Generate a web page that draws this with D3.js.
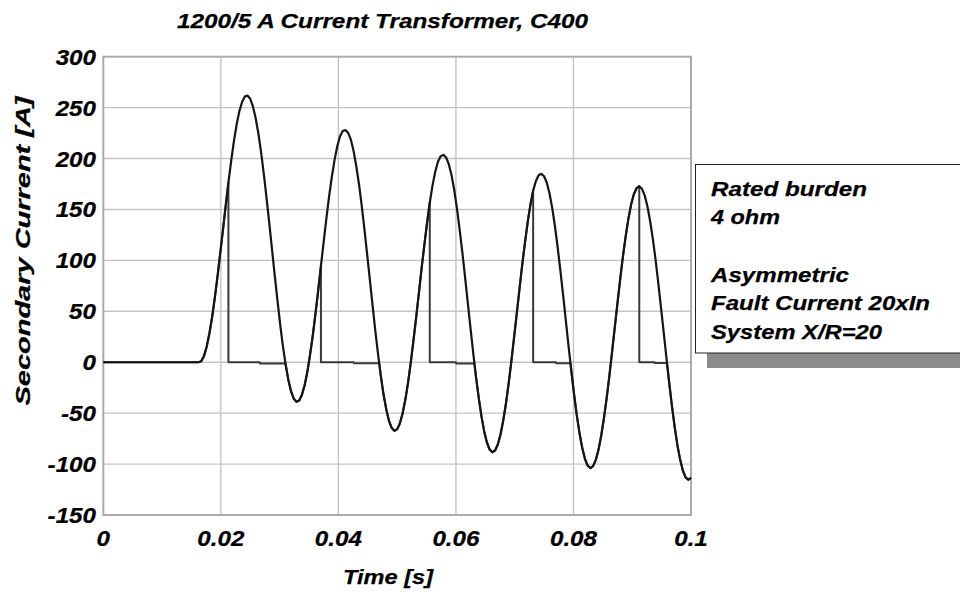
<!DOCTYPE html>
<html><head><meta charset="utf-8">
<script src="https://cdn.jsdelivr.net/npm/d3@7"></script>
<style>
body{margin:0;background:#fff}
svg{display:block}
text{font-family:"Liberation Sans",Arial,sans-serif;font-weight:bold;font-style:italic;fill:#000;stroke:#000;stroke-width:0.25px}
</style>
</head><body>
<svg id="chart" width="960" height="596"></svg>
<script>
// ---- data ----
const chartTitle = "1200/5 A Current Transformer, C400";
const xTitle = "Time [s]";
const yTitle = "Secondary Current [A]";
const legendLines = ["Rated burden", "4 ohm", "", "Asymmetric", "Fault Current 20xIn", "System X/R=20"];
const xTicks = [0, 0.02, 0.04, 0.06, 0.08, 0.1];
const xTickLabels = ["0", "0.02", "0.04", "0.06", "0.08", "0.1"];
const yTicks = [-150, -100, -50, 0, 50, 100, 150, 200, 250, 300];
const yTickLabels = ["-150", "-100", "-50", "0", "50", "100", "150", "200", "250", "300"];

// ideal (unsaturated) secondary current
const time = [0,
.01620,.01666,.01713,.01759,.01805,.01852,.01898,.01944,.01990,.02037,
.02083,.02129,.02176,.02222,.02268,.02314,.02361,.02407,.02453,.02500,
.02546,.02592,.02639,.02685,.02731,.02777,.02824,.02870,.02916,.02963,
.03009,.03055,.03102,.03148,.03194,.03240,.03287,.03333,.03379,.03426,
.03472,.03518,.03565,.03611,.03657,.03703,.03750,.03796,.03842,.03889,
.03935,.03981,.04027,.04074,.04120,.04166,.04213,.04259,.04305,.04352,
.04398,.04444,.04490,.04537,.04583,.04629,.04676,.04722,.04768,.04815,
.04861,.04907,.04953,.05000,.05046,.05092,.05139,.05185,.05231,.05277,
.05324,.05370,.05416,.05463,.05509,.05555,.05601,.05648,.05694,.05740,
.05787,.05833,.05879,.05926,.05972,.06018,.06064,.06111,.06157,.06203,
.06250,.06296,.06342,.06389,.06435,.06481,.06527,.06574,.06620,.06666,
.06713,.06759,.06805,.06852,.06898,.06944,.06990,.07037,.07083,.07129,
.07176,.07222,.07268,.07314,.07361,.07407,.07453,.07500,.07546,.07592,
.07639,.07685,.07731,.07777,.07824,.07870,.07916,.07963,.08009,.08055,
.08102,.08148,.08194,.08240,.08287,.08333,.08379,.08426,.08472,.08518,
.08565,.08611,.08657,.08703,.08750,.08796,.08842,.08889,.08935,.08981,
.09027,.09074,.09120,.09166,.09213,.09259,.09305,.09352,.09398,.09444,
.09490,.09537,.09583,.09629,.09676,.09722,.09768,.09815,.09861,.09907,
.09953,.10000];
const idealCurrent = [0,
0, 0.9, 6.0, 15.2, 28.2, 44.4, 63.4, 84.5, 107.2, 130.5,
153.9, 176.6, 197.8, 216.9, 233.2, 246.2, 255.5, 260.8, 261.9, 258.7,
251.2, 239.8, 224.6, 206.1, 184.9, 161.6, 136.7, 111.2, 85.7, 60.9,
37.5, 16.4, -2.0, -17.1, -28.4, -35.8, -38.8, -37.6, -32.1, -22.6,
-9.4, 7.2, 26.5, 48.0, 70.9, 94.6, 118.3, 141.3, 162.8, 182.1,
198.7, 212.1, 221.7, 227.0, 228.0, 225.2, 218.5, 207.3, 192.4, 174.3,
153.3, 130.2, 105.7, 80.4, 55.1, 30.6, 7.5, -13.4, -31.5, -46.3,
-57.5, -64.5, -67.3, -65.9, -60.2, -50.4, -36.9, -20.2, -0.6, 21.1,
44.3, 68.2, 92.1, 115.3, 137.0, 156.6, 173.4, 187.0, 196.8, 202.3,
203.6, 201.0, 194.5, 183.5, 168.8, 150.8, 130.0, 107.2, 82.8, 57.7,
32.6, 8.3, -14.6, -35.3, -53.2, -67.9, -78.8, -85.7, -88.4, -86.7,
-80.8, -70.9, -57.2, -40.3, -20.6, 1.3, 24.6, 48.7, 72.8, 96.2,
118.0, 137.8, 154.8, 168.5, 178.0, 183.6, 185.0, 182.6, 176.2, 165.9,
151.3, 133.5, 112.9, 90.2, 66.0, 41.0, 16.0, -8.2, -30.9, -51.5,
-69.3, -83.8, -94.6, -101.4, -103.9, -102.1, -96.1, -86.0, -72.2, -55.2,
-35.3, -13.4, 10.1, 34.3, 58.5, 82.0, 104.0, 123.9, 141.0, 154.8,
164.9, 170.9, 172.8, 170.3, 163.6, 152.9, 138.4, 120.7, 100.2, 77.5,
53.4, 28.6, 3.8, -20.3, -43.0, -63.5, -81.2, -95.6, -106.3, -112.9,
-115.4, -113.5];

// saturated CT secondary current
const satTime = [0,
.01620,.01666,.01713,.01759,.01805,.01852,.01898,.01944,.01990,.02037,.02083,.02129,
.02129,.02660,.02665,.03100,
.03102,.03148,.03194,.03240,.03287,.03333,.03379,.03426,.03472,.03518,.03565,.03611,.03657,.03703,
.03703,.04260,.04265,.04695,
.04722,.04768,.04815,.04861,.04907,.04953,.05000,.05046,.05092,.05139,.05185,.05231,.05277,.05324,.05370,.05416,.05463,.05509,.05555,
.05555,.06000,.06005,.06315,
.06342,.06389,.06435,.06481,.06527,.06574,.06620,.06666,.06713,.06759,.06805,.06852,.06898,.06944,.06990,.07037,.07083,.07129,.07176,.07222,.07268,.07314,
.07314,.07700,.07705,.07949,
.07963,.08009,.08055,.08102,.08148,.08194,.08240,.08287,.08333,.08379,.08426,.08472,.08518,.08565,.08611,.08657,.08703,.08750,.08796,.08842,.08889,.08935,.08981,.09027,.09074,.09120,
.09120,.09380,.09385,.09591,
.09629,.09676,.09722,.09768,.09815,.09861,.09907,.09953,.10000];
const satCurrent = [0,
0, 0.9, 6.0, 15.2, 28.2, 44.4, 63.4, 84.5, 107.2, 130.5, 153.9, 176.6,
0, 0, -1.2, -1.2,
-2.0, -17.1, -28.4, -35.8, -38.8, -37.6, -32.1, -22.6, -9.4, 7.2, 26.5, 48.0, 70.9, 94.6,
0, 0, -1.0, -1.0,
-13.4, -31.5, -46.3, -57.5, -64.5, -67.3, -65.9, -60.2, -50.4, -36.9, -20.2, -0.6, 21.1, 44.3, 68.2, 92.1, 115.3, 137.0, 156.6,
0, 0, -1.2, -1.2,
-14.6, -35.3, -53.2, -67.9, -78.8, -85.7, -88.4, -86.7, -80.8, -70.9, -57.2, -40.3, -20.6, 1.3, 24.6, 48.7, 72.8, 96.2, 118.0, 137.8, 154.8, 168.5,
0, 0, -1.0, -1.0,
-8.2, -30.9, -51.5, -69.3, -83.8, -94.6, -101.4, -103.9, -102.1, -96.1, -86.0, -72.2, -55.2, -35.3, -13.4, 10.1, 34.3, 58.5, 82.0, 104.0, 123.9, 141.0, 154.8, 164.9, 170.9, 172.8,
0, 0, -0.8, -0.8,
-20.3, -43.0, -63.5, -81.2, -95.6, -106.3, -112.9, -115.4, -113.5];

// ---- drawing ----
const svg = d3.select("#chart");
const W = 960, H = 596;
const plot = {left: 103.3, right: 691, top: 56.7, bottom: 515};

const x = d3.scaleLinear().domain([0, 0.1]).range([plot.left, plot.right]);
const y = d3.scaleLinear().domain([-150, 300]).range([plot.bottom, plot.top]);

svg.append("rect").attr("width", W).attr("height", H).attr("fill", "#fff");

// grid
const grid = svg.append("g");
grid.selectAll("line.gx").data(xTicks.slice(1, -1)).join("line")
  .attr("x1", d => x(d)).attr("x2", d => x(d))
  .attr("y1", plot.top).attr("y2", plot.bottom)
  .attr("stroke", "#c4c4c4").attr("stroke-width", 1.4);
grid.selectAll("line.gy").data(yTicks.slice(1, -1)).join("line")
  .attr("y1", d => y(d)).attr("y2", d => y(d))
  .attr("x1", plot.left).attr("x2", plot.right)
  .attr("stroke", "#c4c4c4").attr("stroke-width", 1.4);

// frame
svg.append("rect")
  .attr("x", plot.left).attr("y", plot.top)
  .attr("width", plot.right - plot.left).attr("height", plot.bottom - plot.top)
  .attr("fill", "none").attr("stroke", "#ababab").attr("stroke-width", 2);

// lines
const idealData = time.map((t, i) => [t, idealCurrent[i]]);
const satData = satTime.map((t, i) => [t, satCurrent[i]]);
const line = d3.line().x(d => x(d[0])).y(d => y(d[1])).curve(d3.curveLinear);

svg.append("path").datum(satData).attr("d", line)
  .attr("fill", "none").attr("stroke", "#3a3a3a").attr("stroke-width", 2)
  .attr("stroke-linejoin", "round");
svg.append("path").datum(idealData).attr("d", line)
  .attr("fill", "none").attr("stroke", "#151515").attr("stroke-width", 2.2)
  .attr("stroke-linejoin", "round");

// tick labels
svg.selectAll("text.xt").data(xTicks).join("text")
  .attr("transform", d => `translate(${x(d)},546) scale(1.1,1)`)
  .attr("text-anchor", "middle").attr("font-size", 22)
  .text((d, i) => xTickLabels[i]);
svg.selectAll("text.yt").data(yTicks).join("text")
  .attr("transform", d => `translate(96,${y(d) + 8}) scale(1.1,1)`)
  .attr("text-anchor", "end").attr("font-size", 22)
  .text((d, i) => yTickLabels[i]);

// titles
svg.append("text").attr("x", 382.5).attr("y", 28)
  .attr("text-anchor", "middle").attr("font-size", 21)
  .attr("textLength", 411).attr("lengthAdjust", "spacingAndGlyphs")
  .text(chartTitle);
svg.append("text").attr("x", 388).attr("y", 584)
  .attr("text-anchor", "middle").attr("font-size", 21)
  .attr("textLength", 90).attr("lengthAdjust", "spacingAndGlyphs")
  .text(xTitle);
svg.append("text").attr("transform", "translate(30,251) rotate(-90)")
  .attr("text-anchor", "middle").attr("font-size", 21)
  .attr("textLength", 309).attr("lengthAdjust", "spacingAndGlyphs")
  .text(yTitle);

// legend box with shadow
svg.append("rect").attr("x", 707).attr("y", 179).attr("width", 270).attr("height", 189)
  .attr("fill", "#8c8c8c");
svg.append("rect").attr("x", 695.5).attr("y", 164.5).attr("width", 270).attr("height", 188.5)
  .attr("fill", "#fff").attr("stroke", "#222").attr("stroke-width", 1);
const legendWidths = [156, 69, 0, 138, 219, 171];
legendLines.forEach((s, i) => {
  if (!s) return;
  svg.append("text").attr("x", 711).attr("y", 195.5 + i * 28.7)
    .attr("font-size", 21)
    .attr("textLength", legendWidths[i]).attr("lengthAdjust", "spacingAndGlyphs")
    .text(s);
});
</script>
</body></html>
